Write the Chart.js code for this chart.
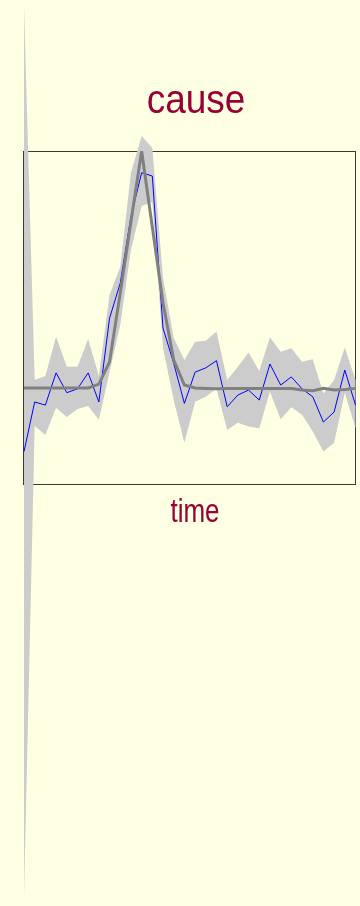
<!DOCTYPE html>
<html>
<head>
<meta charset="utf-8">
<title>cause</title>
<style>
  html, body { margin: 0; padding: 0; background: #FFFFE3; }
  #wrap { width: 360px; height: 906px; position: relative; }
  canvas { display: block; }
</style>
<script src="https://cdn.jsdelivr.net/npm/chart.js@4/dist/chart.umd.min.js"></script>
</head>
<body>
<div id="wrap"><canvas id="chart" width="360" height="906"></canvas></div>
<script>
// time steps along the x axis
const timeSteps = [0, 1, 2, 3, 4, 5, 6, 7, 8, 9, 10, 11, 12, 13, 14, 15,
                   16, 17, 18, 19, 20, 21, 22, 23, 24, 25, 26, 27, 28, 29, 30, 31];

// observed series (thin blue line)
const observed = [-0.260, -0.052, -0.065, 0.070, -0.013, 0.003, 0.070, -0.052,
                  0.299, 0.446, 0.725, 0.909, 0.895, 0.258, 0.110, -0.058,
                  0.073, 0.091, 0.121, -0.072, -0.023, -0.002, -0.044, 0.107,
                  0.019, 0.053, 0.003, -0.030, -0.136, -0.094, 0.082, -0.065];

// fitted response (thick grey line)
const fitted = [0.007, 0.007, 0.007, 0.007, 0.007, 0.007, 0.007, 0.023,
                0.116, 0.405, 0.702, 1.000, 0.681, 0.363, 0.124, 0.019,
                0.007, 0.005, 0.003, 0.004, 0.004, 0.004, 0.004, 0.004,
                0.004, 0.004, -0.002, -0.005, 0.005, -0.002, 0.000, 0.005];

// interval around the observed series (grey band)
const bandUpper = [1.608, 0.040, 0.057, 0.222, 0.096, 0.096, 0.212, 0.057,
                   0.396, 0.514, 0.908, 1.063, 1.013, 0.468, 0.216, 0.124,
                   0.200, 0.205, 0.243, 0.040, 0.096, 0.155, 0.078, 0.219,
                   0.159, 0.173, 0.117, 0.127, -0.016, 0.040, 0.176, 0.040];
const bandLower = [-2.127, -0.153, -0.190, -0.076, -0.115, -0.081, -0.069, -0.127,
                   0.074, 0.271, 0.585, 0.769, 0.786, 0.174, -0.044, -0.223,
                   -0.051, -0.030, 0.005, -0.169, -0.139, -0.155, -0.162, -0.009,
                   -0.124, -0.074, -0.106, -0.176, -0.260, -0.223, -0.013, -0.162];

const titleText = 'cause';
const xAxisTitle = 'time';

const BG = '#FFFFE3';
const TEXT_RED = '#990033';

// plot frame around the chart area
const framePlugin = {
  id: 'frame',
  beforeDatasetsDraw(chart) {
    const { ctx, chartArea: a } = chart;
    ctx.save();
    ctx.strokeStyle = '#3a3a32';
    ctx.lineWidth = 1;
    const l = Math.round(a.left) - 0.5;
    const t = Math.round(a.top) + 0.5;
    const r = Math.round(a.right) - 0.5;
    const b = Math.round(a.bottom) - 0.5;
    ctx.strokeRect(l, t, r - l, b - t);
    ctx.restore();
  }
};

// grey interval polygon, drawn through the scales and not clipped to the plot area
const bandPlugin = {
  id: 'band',
  beforeDatasetsDraw(chart) {
    const { ctx } = chart;
    const xs = chart.scales.x, ys = chart.scales.y;
    ctx.save();
    ctx.beginPath();
    bandUpper.forEach((v, i) => {
      const px = xs.getPixelForValue(i), py = ys.getPixelForValue(v);
      if (i === 0) ctx.moveTo(px, py); else ctx.lineTo(px, py);
    });
    for (let i = bandLower.length - 1; i >= 0; i--) {
      ctx.lineTo(xs.getPixelForValue(i), ys.getPixelForValue(bandLower[i]));
    }
    ctx.closePath();
    ctx.fillStyle = '#cccccc';
    ctx.fill();
    ctx.restore();
  }
};

// main title and x axis title
const textPlugin = {
  id: 'texts',
  afterDraw(chart) {
    const { ctx } = chart;
    const drawText = (str, x, baseline, size, stretch) => {
      ctx.save();
      ctx.translate(x, baseline);
      ctx.scale(1, stretch);
      ctx.font = size + 'px "Liberation Sans", Arial, sans-serif';
      ctx.fillStyle = TEXT_RED;
      ctx.textAlign = 'center';
      ctx.textBaseline = 'alphabetic';
      ctx.fillText(str, 0, 0);
      ctx.restore();
    };
    drawText(titleText, 196, 113, 37, 1.1);
    drawText(xAxisTitle, 195, 522, 26, 1.25);
  }
};

const bgPlugin = {
  id: 'bg',
  beforeDraw(chart) {
    const { ctx, width, height } = chart;
    ctx.save();
    ctx.fillStyle = BG;
    ctx.fillRect(0, 0, width, height);
    ctx.restore();
  }
};

new Chart(document.getElementById('chart'), {
  type: 'line',
  data: {
    labels: timeSteps,
    datasets: [
      {
        label: 'fitted',
        data: fitted,
        borderColor: '#808080',
        borderWidth: 3,
        pointRadius: 0,
        tension: 0,
        fill: false,
        order: 0
      },
      {
        label: 'observed',
        data: observed,
        borderColor: '#0000FF',
        borderWidth: 1,
        pointRadius: 0,
        tension: 0,
        fill: false,
        order: 1
      }
    ]
  },
  options: {
    responsive: false,
    animation: false,
    devicePixelRatio: 1,
    events: [],
    layout: { padding: { left: 24, right: 4.5, top: 151, bottom: 421 } },
    scales: {
      x: { display: false, offset: false },
      y: { display: false, min: -0.4, max: 1.0 }
    },
    plugins: {
      legend: { display: false },
      tooltip: { enabled: false },
      title: { display: false }
    }
  },
  plugins: [bgPlugin, framePlugin, bandPlugin, textPlugin]
});
</script>
</body>
</html>
